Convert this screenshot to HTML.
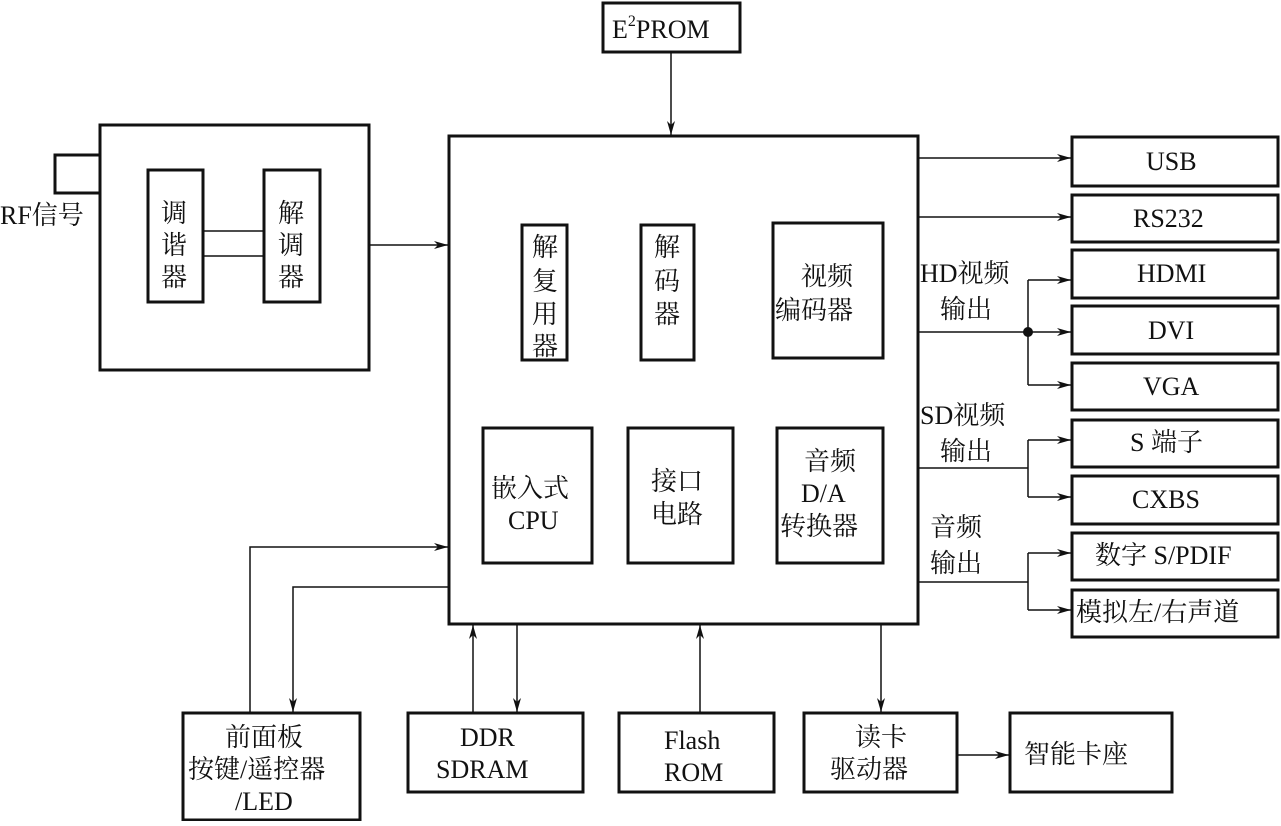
<!DOCTYPE html>
<html><head><meta charset="utf-8"><style>
html,body{margin:0;padding:0;background:#fff}
svg text{font-family:"Liberation Serif","Noto Serif CJK SC",serif;font-size:26px;fill:#111}
</style></head><body>
<svg width="1281" height="821" viewBox="0 0 1281 821" xmlns="http://www.w3.org/2000/svg">
<defs><marker id="a" markerWidth="14" markerHeight="8" refX="14" refY="4" orient="auto" markerUnits="userSpaceOnUse"><path d="M0,0 L14,4 L0,8 L4,4 Z" fill="#111"/></marker></defs>
<g fill="none" stroke="#111" stroke-width="3">
<rect x="449" y="136" width="469" height="488"/>
<rect x="603" y="3" width="137" height="49"/>
<rect x="100" y="125" width="269" height="245"/>
<rect x="148" y="170" width="55" height="132"/>
<rect x="264" y="170" width="56" height="132"/>
<rect x="522" y="225" width="45" height="135"/>
<rect x="641" y="225" width="53" height="135"/>
<rect x="773" y="223" width="110" height="135"/>
<rect x="483" y="428" width="109" height="135"/>
<rect x="628" y="428" width="105" height="135"/>
<rect x="777" y="428" width="106" height="135"/>
<rect x="1072" y="137" width="206" height="49"/>
<rect x="1072" y="195" width="206" height="47"/>
<rect x="1072" y="250" width="206" height="48"/>
<rect x="1072" y="306" width="206" height="48"/>
<rect x="1072" y="363" width="206" height="47"/>
<rect x="1072" y="420" width="206" height="47"/>
<rect x="1072" y="476" width="206" height="48"/>
<rect x="1072" y="533" width="206" height="47"/>
<rect x="1072" y="590" width="206" height="47"/>
<rect x="183" y="713" width="177" height="107"/>
<rect x="408" y="713" width="175" height="79"/>
<rect x="619" y="713" width="155" height="79"/>
<rect x="804" y="713" width="153" height="79"/>
<rect x="1010" y="713" width="162" height="79"/>
<polyline points="100,155 55,155 55,193 100,193"/>
</g>
<g fill="none" stroke="#111" stroke-width="1.5">
<line x1="203" y1="231" x2="264" y2="231"/>
<line x1="203" y1="256" x2="264" y2="256"/>
<line x1="671" y1="52" x2="671" y2="135" marker-end="url(#a)"/>
<line x1="369" y1="245" x2="448" y2="245" marker-end="url(#a)"/>
<line x1="918" y1="158" x2="1071" y2="158" marker-end="url(#a)"/>
<line x1="918" y1="217" x2="1071" y2="217" marker-end="url(#a)"/>
<line x1="918" y1="332" x2="1071" y2="332" marker-end="url(#a)"/>
<line x1="1028" y1="280" x2="1028" y2="385"/>
<line x1="1028" y1="280" x2="1071" y2="280" marker-end="url(#a)"/>
<line x1="1028" y1="385" x2="1071" y2="385" marker-end="url(#a)"/>
<polyline points="918,468 1028,468"/>
<line x1="1028" y1="440" x2="1028" y2="497"/>
<line x1="1028" y1="440" x2="1071" y2="440" marker-end="url(#a)"/>
<line x1="1028" y1="497" x2="1071" y2="497" marker-end="url(#a)"/>
<polyline points="918,582 1028,582"/>
<line x1="1028" y1="553" x2="1028" y2="610"/>
<line x1="1028" y1="553" x2="1071" y2="553" marker-end="url(#a)"/>
<line x1="1028" y1="610" x2="1071" y2="610" marker-end="url(#a)"/>
<polyline points="250,713 250,547 448,547" marker-end="url(#a)"/>
<polyline points="449,587 293,587 293,712" marker-end="url(#a)"/>
<line x1="473" y1="713" x2="473" y2="625" marker-end="url(#a)"/>
<line x1="517" y1="624" x2="517" y2="712" marker-end="url(#a)"/>
<line x1="700" y1="713" x2="700" y2="625" marker-end="url(#a)"/>
<line x1="881" y1="624" x2="881" y2="712" marker-end="url(#a)"/>
<line x1="957" y1="755" x2="1009" y2="755" marker-end="url(#a)"/>
</g>
<circle cx="1028" cy="332" r="5" fill="#111"/>
<text x="612" y="38">E<tspan font-size="16" dy="-12">2</tspan><tspan dy="12">PROM</tspan></text>
<text x="0" y="224">RF信号</text>
<text x="161" y="222">调</text><text x="161" y="254">谐</text><text x="161" y="286">器</text>
<text x="278" y="222">解</text><text x="278" y="254">调</text><text x="278" y="286">器</text>
<text x="532" y="256">解</text><text x="532" y="290">复</text><text x="532" y="323">用</text><text x="532" y="355">器</text>
<text x="654" y="256">解</text><text x="654" y="290">码</text><text x="654" y="323">器</text>
<text x="801" y="285">视频</text><text x="775" y="319">编码器</text>
<text x="491" y="497">嵌入式</text><text x="508" y="529">CPU</text>
<text x="651" y="490">接口</text><text x="651" y="523">电路</text>
<text x="804" y="470">音频</text><text x="801" y="502">D/A</text><text x="780" y="535">转换器</text>
<text x="1146" y="170">USB</text>
<text x="1133" y="227">RS232</text>
<text x="1137" y="282">HDMI</text>
<text x="1148" y="339">DVI</text>
<text x="1143" y="395">VGA</text>
<text x="1130" y="451">S 端子</text>
<text x="1132" y="508">CXBS</text>
<text x="1095" y="564">数字 S/PDIF</text>
<text x="1076" y="621">模拟左/右声道</text>
<text x="920" y="282">HD视频</text><text x="940" y="318">输出</text>
<text x="920" y="424">SD视频</text><text x="940" y="460">输出</text>
<text x="930" y="536">音频</text><text x="930" y="572">输出</text>
<text x="225" y="746">前面板</text><text x="188" y="778">按键/遥控器</text><text x="235" y="810">/LED</text>
<text x="460" y="746">DDR</text><text x="436" y="778">SDRAM</text>
<text x="664" y="749">Flash</text><text x="664" y="781">ROM</text>
<text x="855" y="746">读卡</text><text x="830" y="778">驱动器</text>
<text x="1024" y="763">智能卡座</text>
</svg>
</body></html>
